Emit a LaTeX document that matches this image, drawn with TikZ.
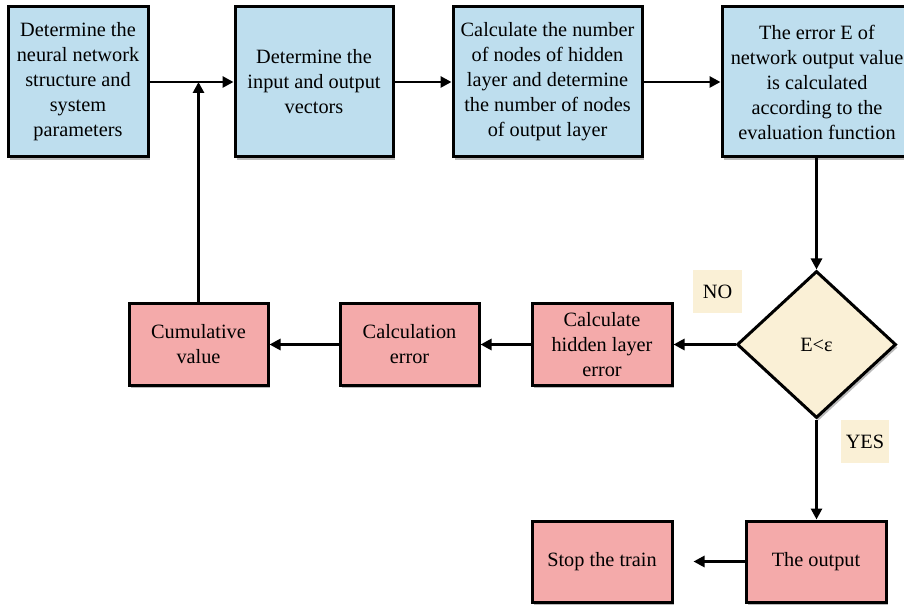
\documentclass[tikz,border=0pt]{standalone}
\usepackage{fontspec}
\setmainfont{Liberation Serif}
\usetikzlibrary{shapes.geometric,arrows.meta,shadows}
\definecolor{boxblue}{RGB}{190,222,238}
\definecolor{boxpink}{RGB}{244,170,170}
\definecolor{boxcream}{RGB}{250,240,214}
\begin{document}
\begin{tikzpicture}[x=1pt,y=-1pt,
  every node/.style={font=\fontsize{20.3}{25}\selectfont, align=center, inner sep=0pt},
  shad/.style={drop shadow={shadow xshift=2pt, shadow yshift=-3pt, opacity=0.45, fill=black!60}},
  bluebox/.style={rectangle, draw=black, line width=3pt, fill=boxblue, minimum height=150pt, shad},
  pinkbox/.style={rectangle, draw=black, line width=3pt, fill=boxpink, minimum height=81pt, minimum width=140pt, shad},
  decide/.style={diamond, draw=black, line width=3pt, fill=boxcream, minimum width=159pt, minimum height=147pt, shad},
  tag/.style={rectangle, fill=boxcream, minimum width=49pt, minimum height=43pt},
  conn/.style={line width=2.8pt, -{Triangle[length=11pt,width=11pt]}}
]
\useasboundingbox (0,0) rectangle (904,609);
\clip (0,0) rectangle (904,609);
\node[bluebox, minimum width=140pt] (b1) at (78,82) {Determine the\\neural network\\structure and\\system\\parameters};
\node[bluebox, minimum width=158pt] (b2) at (314,82) {Determine the\\input and output\\vectors};
\node[bluebox, minimum width=189pt] (b3) at (547.5,82) {Calculate the number\\of nodes of hidden\\layer and determine\\the number of nodes\\of output layer};
\node[bluebox, minimum width=190pt] (b4) at (817,82) {The error E of\\network output value\\is calculated\\according to the\\evaluation function};
\node[decide] (d) at (816.5,344.5) {E<ε};
\node[pinkbox] (hid) at (602,344.5) {Calculate\\hidden layer\\error};
\node[pinkbox, minimum width=139pt] (ce) at (409.5,344.5) {Calculation\\error};
\node[pinkbox, minimum width=139pt] (cum) at (198.5,344.5) {Cumulative\\value};
\node[pinkbox] (out) at (816,561.5) {The output};
\node[pinkbox] (stop) at (602,561.5) {Stop the train};
\node[tag] (no) at (717.5,291.5) {NO};
\node[tag, minimum width=48pt] (yes) at (865,441.5) {YES};
\coordinate (join) at (cum.north |- b1.east);
\draw[conn] (b1.east) -- (b2.west);
\draw[conn] (b2.east) -- (b3.west);
\draw[conn] (b3.east) -- (b4.west);
\draw[conn] (b4.south -| d.north) -- (d.north);
\draw[conn] (d.west) -- (hid.east);
\draw[conn] (hid.west) -- (ce.east);
\draw[conn] (ce.west) -- (cum.east);
\draw[conn] (cum.north) -- (join);
\draw[conn] (d.south) -- (d.south |- out.north);
\draw[conn, shorten >=20pt] (out.west) -- (stop.east);
\end{tikzpicture}
\end{document}
